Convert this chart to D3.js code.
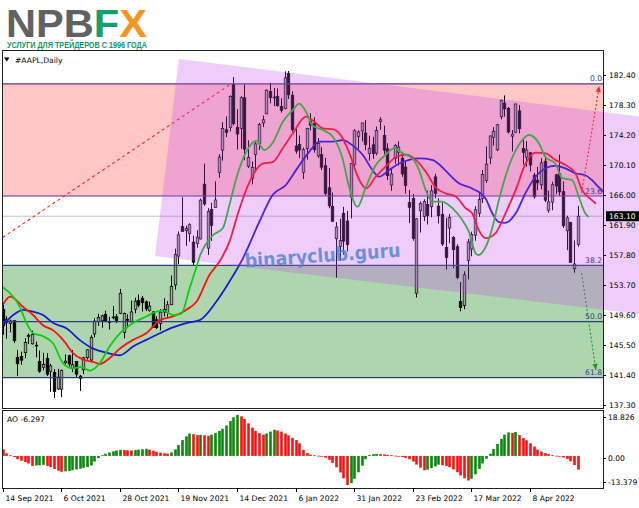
<!DOCTYPE html>
<html><head><meta charset="utf-8">
<script src="https://cdn.jsdelivr.net/npm/d3@7"></script>
<style>body{margin:0;background:#fff}svg{display:block}</style>
</head><body><svg id="c" width="639" height="508"></svg>
<script>
// ---------- DATA ----------
const tickLabels = ["14 Sep 2021","6 Oct 2021","28 Oct 2021","19 Nov 2021","14 Dec 2021","6 Jan 2022","31 Jan 2022","23 Feb 2022","17 Mar 2022","8 Apr 2022"];
const tickBars = [0,16,32,48,64,80,96,112,128,144];
const priceTicks = ["182.40","178.30","174.20","170.10","166.00","161.90","157.80","153.70","149.60","145.50","141.40","137.30"];
const aoTicks = ["18.826","0.00","-13.379"];
const lastPrice = 163.10;
const lastAO = -6.297;

const open = [150.35,148.56,148.44,148.82,143.80,143.93,144.45,146.65,145.66,145.47,
143.25,142.47,143.66,141.90,141.76,139.49,139.47,143.06,144.03,142.27,
143.23,141.24,142.11,143.77,143.45,147.01,148.70,148.81,149.69,148.68,
149.33,149.36,149.82,147.22,148.99,148.66,150.39,151.58,151.89,151.41,
150.20,150.02,148.96,148.43,150.37,149.94,151.00,153.71,157.65,161.68,
161.12,160.75,159.57,159.37,159.99,167.48,158.74,164.02,164.29,169.08,
172.13,174.91,175.21,181.12,175.25,175.11,179.28,169.93,168.28,171.56,
173.04,175.85,177.09,180.16,179.33,179.47,178.09,177.83,182.63,179.61,
172.70,172.89,169.08,172.32,176.12,175.78,171.34,171.51,170.00,166.98,
164.42,160.02,158.98,163.50,162.45,165.71,170.16,174.01,174.75,174.48,
171.68,172.86,171.73,176.05,174.14,172.33,167.37,170.97,171.85,171.03,
169.82,164.98,165.54,152.58,163.84,163.06,164.70,164.39,168.47,164.49,
163.36,158.82,161.48,160.20,158.93,151.45,150.90,157.05,158.61,160.51,
163.51,165.51,167.99,171.06,173.88,172.17,176.69,178.55,177.84,174.03,
174.57,177.50,172.36,171.16,171.78,168.71,168.02,167.39,170.62,163.92,
165.02,168.76,168.91,166.46,161.12,162.25,155.91,159.25];
const high = [151.07,149.44,148.97,148.82,144.84,144.60,146.43,147.08,147.47,145.96,
144.75,144.45,144.38,142.92,142.21,142.24,142.15,144.22,144.18,144.81,
143.25,141.40,143.88,144.90,146.84,149.17,149.75,149.64,150.18,149.37,
150.84,149.73,153.17,149.94,149.70,151.57,151.97,152.43,152.20,151.57,
151.43,150.13,149.43,150.40,151.88,151.49,155.00,158.67,161.02,165.70,
161.80,162.14,160.45,161.19,165.52,170.30,164.20,164.96,167.88,171.58,
175.96,176.75,179.63,182.13,177.74,179.50,181.14,173.47,170.58,173.20,
175.86,176.85,180.42,181.33,180.63,180.57,179.23,182.88,182.94,180.17,
175.30,174.14,172.50,175.18,177.18,176.62,173.78,172.54,171.08,169.68,
166.33,162.30,162.76,164.39,163.84,170.35,175.00,174.84,175.88,176.24,
174.10,173.95,175.35,176.65,175.48,173.08,169.58,172.95,173.34,171.91,
170.54,166.69,166.15,162.85,165.12,165.42,166.60,167.36,168.91,165.55,
165.02,162.88,163.41,160.39,159.28,154.12,155.57,160.00,161.00,164.48,
166.35,169.42,172.64,174.14,175.28,175.73,179.01,179.61,178.03,174.88,
178.49,178.30,173.63,173.36,171.78,169.03,169.87,171.04,171.27,166.60,
167.82,168.88,171.53,167.87,163.17,162.34,159.79,164.52];
const low = [146.91,146.37,147.22,145.76,141.27,142.78,143.70,145.64,145.56,143.82,
141.69,142.03,141.28,139.11,138.27,139.36,138.37,142.72,142.56,141.81,
141.04,139.20,141.51,143.51,143.16,146.55,148.12,147.87,148.64,147.62,
149.01,148.49,149.72,146.41,147.80,148.65,149.82,150.64,150.06,150.16,
150.06,147.85,147.68,147.48,149.43,149.34,150.99,153.05,156.53,161.00,
159.06,159.64,156.36,158.79,159.92,164.53,157.80,159.72,164.28,168.34,
170.70,173.92,174.69,175.53,172.21,172.31,170.75,169.69,167.46,169.12,
172.15,175.27,177.07,178.53,178.14,178.09,177.26,177.71,179.12,174.64,
171.64,171.03,168.17,170.82,174.82,171.79,171.09,169.41,165.94,164.18,
162.30,154.70,157.02,157.82,158.28,162.80,169.51,172.31,173.33,172.12,
170.68,170.95,171.43,174.90,171.55,168.04,166.56,170.25,170.05,168.47,
166.19,162.15,159.75,152.00,160.87,162.43,161.97,162.95,165.55,162.10,
159.04,155.80,159.41,155.98,154.50,150.10,150.38,154.46,157.63,159.76,
163.01,164.91,167.65,170.21,172.75,172.00,176.34,176.70,174.40,171.94,
174.44,174.42,170.13,169.85,169.20,165.50,166.64,166.77,165.04,163.57,
163.91,166.10,165.91,161.50,158.46,156.72,155.38,158.93];
const close = [148.12,149.03,148.79,146.06,142.94,143.43,145.85,146.83,146.92,145.37,
141.91,142.83,141.50,142.65,139.14,141.11,142.00,143.29,142.90,142.81,
141.51,140.91,143.76,144.84,146.55,148.76,149.26,149.48,148.69,148.64,
149.32,148.85,152.57,149.80,148.96,150.02,151.49,150.96,151.28,150.44,
150.81,147.92,147.87,149.99,150.00,151.00,153.49,157.87,160.55,161.02,
161.41,161.94,156.81,160.24,165.30,164.77,163.76,161.84,165.32,171.18,
175.08,174.56,179.45,175.74,174.33,179.30,172.26,171.14,169.75,172.99,
175.64,176.28,180.33,179.29,179.38,178.20,177.57,182.01,179.70,174.92,
172.00,172.17,172.19,175.08,175.53,172.19,173.07,169.80,166.23,164.51,
162.41,161.62,159.78,159.69,159.22,170.33,174.78,174.61,175.84,172.90,
172.39,171.66,174.83,176.28,172.12,168.64,168.88,172.79,172.55,168.88,
167.30,164.32,160.07,162.74,164.85,165.12,163.20,166.56,166.23,163.17,
159.30,157.44,162.95,158.52,154.73,150.62,155.09,159.59,160.62,163.98,
165.38,168.82,170.21,174.07,174.72,175.60,178.96,177.77,174.61,174.31,
178.44,175.06,171.83,172.14,170.09,165.75,167.66,170.40,165.29,165.07,
167.40,167.23,166.42,161.79,162.88,156.80,156.57,163.10];

// Alligator lines: [bar, price]
const lips = [[0,153.4],[2.9,152.1],[4.7,150.7],[6.5,148.5],[8.3,147.1],[11,146.7],[13.8,145.7],[16.5,143.0],[19.2,142.3],[21.5,142.5],[23.8,142.0],[26.5,143.0],[29.2,145.3],[32,147.1],[35.6,148.5],[39.2,149.4],[42,150.05],[43.8,150.2],[46.5,149.6],[48.8,149.8],[51,153.2],[52.5,155.5],[53.8,157.6],[57.4,160.5],[60.1,161.45],[61.9,164.6],[63.8,168.3],[66.5,171.9],[69.2,173.4],[71.5,172.15],[73.7,173.1],[76.5,176.0],[79.2,177.6],[81,178.5],[82.8,177.4],[84.6,175.5],[87.4,174.9],[90.1,174.0],[92.8,171.0],[94.6,167.1],[96.9,164.4],[99.2,167.1],[101.9,170.1],[104.6,171.5],[106.9,172.4],[109.2,171.7],[111.9,171.0],[113.7,169.4],[115.5,166.7],[117.3,165.1],[120,165.1],[122.8,164.2],[125.5,162.6],[127.3,161.0],[129.2,158.0],[130,157.8],[131.9,158.9],[133.7,161.5],[135.5,165.3],[138.2,169.9],[140.9,172.8],[143.7,174.2],[146.4,173.1],[148.2,171.2],[150.9,170.3],[152.8,168.3],[155.5,168.05],[157.3,165.8],[159.1,163.5],[160,163.0]];
const teeth = [[0,150.96],[2,152.1],[5.6,150.7],[8.3,149.6],[11,148.2],[13.8,147.5],[16.5,146.2],[19.2,144.4],[22,143.5],[24.7,143.2],[26.5,142.9],[29.2,143.7],[32,145.0],[35.6,146.2],[39.2,147.1],[42.9,148.9],[46.5,149.4],[50.1,150.3],[52.9,151.4],[56.5,155.1],[59.2,156.9],[61.9,159.6],[64.7,164.2],[67.4,167.8],[71,170.3],[73.7,170.5],[76.5,172.4],[79.2,174.4],[82.8,176.7],[85.6,175.8],[87.4,175.1],[90.1,175.0],[92.8,173.8],[94.6,171.8],[97.4,168.05],[99.2,166.9],[101.9,168.5],[104.6,169.9],[107.4,171.2],[110.1,171.5],[112.8,170.8],[115.5,169.2],[118.3,167.0],[121,166.2],[123.7,165.8],[126.4,164.2],[128.2,163.5],[130,161.2],[131.9,160.1],[134.6,160.8],[137.3,163.5],[140.1,166.7],[142.8,170.3],[145.5,171.8],[148.2,171.7],[150.9,170.8],[153.7,170.1],[156.4,168.97],[158.2,166.7],[160.9,165.3],[162,164.8]];
const jaw = [[0,148.2],[2.9,149.6],[5.6,150.3],[8.3,150.05],[11,149.6],[13.8,148.5],[17.4,147.8],[21,146.2],[24.7,145.0],[28.3,144.45],[32,144.1],[35.6,145.3],[39.2,146.2],[42.9,147.1],[46.5,147.9],[50.1,148.5],[53.8,148.9],[58.3,151.4],[61.9,154.15],[65.6,157.35],[70.1,162.35],[73.7,166.0],[77.4,167.4],[80.1,169.4],[83.7,171.9],[86.5,173.3],[90.1,173.3],[92.8,173.5],[95.5,172.8],[98.3,171.5],[101,169.4],[102.8,168.5],[105.5,169.4],[108.3,170.3],[111,170.8],[113.7,171.0],[117.3,170.8],[119.4,170.1],[121,169.3],[124.6,167.6],[128.2,166.9],[131.9,165.5],[133.7,163.5],[135.5,162.3],[137.3,162.2],[140.1,163.5],[142.8,166.3],[145.5,168.5],[148.2,169.65],[150.9,170.0],[153.7,169.65],[156.4,168.97],[159.1,168.7],[160.9,168.05],[162.7,167.1],[165,166.0]];

// Awesome Oscillator values per bar
const ao = [3.0,1.2,0.3,-0.5,-1.5,-2.2,-2.8,-3.5,-4.6,-4.4,
-4.3,-4.1,-4.6,-5.2,-6.0,-6.8,-7.3,-7.1,-6.9,-6.6,
-6.2,-5.9,-5.5,-5.1,-4.4,-2.6,-1.0,0.3,1.0,1.6,
2.1,2.5,2.8,2.7,2.6,2.5,2.7,2.9,3.1,3.3,
2.9,2.4,1.9,1.5,1.2,1.1,1.6,3.0,5.0,7.3,
9.0,10.3,10.0,9.6,9.7,9.5,9.3,9.8,10.6,11.5,
12.5,14.0,16.0,17.8,18.826,18.2,17.0,15.0,13.0,11.5,
10.5,9.8,10.3,11.2,12.0,11.7,11.2,10.3,9.4,8.3,
7.3,5.8,2.8,1.3,0.6,0.3,0.1,-0.3,-0.8,-1.8,
-3.2,-5.2,-7.6,-10.3,-13.379,-12.5,-10.5,-7.5,-4.5,-1.5,
0.5,0.8,0.9,0.8,0.7,0.5,0.3,0.1,-0.2,-0.5,
-0.9,-1.5,-2.6,-4.0,-5.4,-6.6,-6.3,-5.6,-4.8,-4.0,
-4.3,-4.6,-5.2,-6.2,-7.5,-9.0,-10.3,-11.3,-10.5,-8.5,
-6.0,-3.5,-1.3,1.0,3.2,5.5,7.8,9.8,10.8,10.6,
11.0,9.6,8.2,7.2,5.8,4.3,2.9,2.0,1.3,0.8,
0.4,0.1,-0.2,-0.7,-1.4,-2.5,-4.2,-6.297];

// Fibonacci retracement
const fibLevels = ["0.0","23.6","38.2","50.0","61.8"];
const fibHigh = 181.2, fibRange = 65.0;
const fibLine = [[0,160.2],[62.4,181.2]];
const arrowUp = [[158.1,166.3],[162.9,180.9]];
const arrowDown = [[158.1,155.3],[162.0,142.1]];
// Channel corners [bar, price]
const channel = [[48.1,184.6],[173.8,176.73],[173.8,149.73],[41.6,157.66]];

// ---------- DRAW ----------
const svg = d3.select("#c");
const L = 3, R = 603, T = 51, B = 408, AT = 411, AB = 488;
const x = d3.scaleLinear().domain([0,144]).range([2.7,530]);
const y = d3.scaleLinear().domain([137.3,182.4]).range([405,75]);
const ya = d3.scaleLinear().domain([-13.379,18.826]).range([485,415]);
const axisFont = "DejaVu Sans";

const defs = svg.append("defs");
defs.append("clipPath").attr("id","mainClip").append("rect").attr("x",L).attr("y",T).attr("width",R-L).attr("height",B-T);
defs.append("clipPath").attr("id","chanClip").append("rect").attr("x",L).attr("y",T).attr("width",639-L).attr("height",B-T);
defs.append("clipPath").attr("id","aoClip").append("rect").attr("x",L).attr("y",AT).attr("width",R-L).attr("height",AB-AT);

const fibPrice = fibLevels.map(l => fibHigh - (+l/100)*fibRange);

const main = svg.append("g").attr("clip-path","url(#mainClip)");
// zones
main.append("rect").attr("x",L).attr("width",R-L)
  .attr("y",y(fibPrice[0])).attr("height",y(fibPrice[1])-y(fibPrice[0])).attr("fill","#ffc6c6");
main.append("rect").attr("x",L).attr("width",R-L)
  .attr("y",y(fibPrice[2])).attr("height",y(fibPrice[4])-y(fibPrice[2])).attr("fill","#aed6ae");
// current price line
main.append("line").attr("x1",L).attr("x2",R).attr("y1",y(lastPrice)).attr("y2",y(lastPrice))
  .attr("stroke","#c4c4c4").attr("stroke-width",1);

// candles
const bw = 2.6;
const idx = d3.range(close.length);
const cg = main.append("g");
cg.selectAll("line.w").data(idx).join("line")
  .attr("x1",i=>Math.round(x(i))+0.5).attr("x2",i=>Math.round(x(i))+0.5)
  .attr("y1",i=>y(high[i])).attr("y2",i=>y(low[i]))
  .attr("stroke","#000").attr("stroke-width",1);
cg.selectAll("rect.b").data(idx).join("rect")
  .attr("x",i=>Math.round(x(i))+0.5-bw/2).attr("width",bw)
  .attr("y",i=>y(Math.max(open[i],close[i])))
  .attr("height",i=>Math.max(0.8,Math.abs(y(open[i])-y(close[i]))))
  .attr("fill",i=>close[i]>=open[i]?"#a4a4a4":"#000")
  .attr("stroke","#000").attr("stroke-width",0.7);

// fib level lines
fibPrice.forEach((p,k)=>{
  main.append("line").attr("x1",L).attr("x2",R).attr("y1",y(p)).attr("y2",y(p))
    .attr("stroke", k<2 ? "#5a3296" : "#2e3f78").attr("stroke-width",1.2);
});

// channel (translucent violet)
svg.append("g").attr("clip-path","url(#chanClip)").append("path")
  .attr("d", d3.line().x(d=>x(d[0])).y(d=>y(d[1]))(channel)+"Z")
  .attr("fill","rgb(196,70,238)").attr("fill-opacity",0.27);

// alligator lines
const ln = d3.line().x(d=>x(d[0])).y(d=>y(d[1])).curve(d3.curveMonotoneX);
main.append("path").attr("d",ln(jaw)).attr("fill","none").attr("stroke","#1a1ad0").attr("stroke-width",1.8);
main.append("path").attr("d",ln(teeth)).attr("fill","none").attr("stroke","#ff1010").attr("stroke-width",1.8);
main.append("path").attr("d",ln(lips)).attr("fill","none").attr("stroke","#10cc10").attr("stroke-width",1.8);

// fib diagonal + arrows
main.append("line").attr("x1",x(fibLine[0][0])).attr("y1",y(fibLine[0][1]))
  .attr("x2",x(fibLine[1][0])).attr("y2",y(fibLine[1][1]))
  .attr("stroke","#ff2020").attr("stroke-width",1.1).attr("stroke-dasharray","3,3");
function arrow(pts,color){
  const x1=x(pts[0][0]),y1=y(pts[0][1]),x2=x(pts[1][0]),y2=y(pts[1][1]);
  main.append("line").attr("x1",x1).attr("y1",y1).attr("x2",x2).attr("y2",y2)
    .attr("stroke",color).attr("stroke-width",1.1).attr("stroke-dasharray","2,2");
  const a=Math.atan2(y2-y1,x2-x1), s=6, w=2.6;
  const p=[[x2,y2],[x2-s*Math.cos(a)+w*Math.sin(a),y2-s*Math.sin(a)-w*Math.cos(a)],[x2-s*Math.cos(a)-w*Math.sin(a),y2-s*Math.sin(a)+w*Math.cos(a)]];
  main.append("path").attr("d","M"+p.map(q=>q.join(",")).join("L")+"Z").attr("fill",color);
}
arrow(arrowUp,"#ff2020");
arrow(arrowDown,"#1a9a1a");

// fib labels
fibLevels.forEach((l,k)=>{
  svg.append("text").attr("x",602).attr("y",y(fibPrice[k])-2.5).attr("text-anchor","end")
    .attr("font-family",axisFont).attr("font-size",7.6)
    .attr("fill", k===0 ? "#2a3ac0" : "#3a3a8a").text(l);
});

// watermark
svg.append("text").attr("transform","translate(323,262) rotate(-4)")
  .attr("text-anchor","middle").attr("font-family","DejaVu Sans").attr("font-weight","bold")
  .attr("font-size",19).attr("textLength",156).attr("lengthAdjust","spacingAndGlyphs")
  .attr("fill","#4f86d4").attr("fill-opacity",0.85).text("binaryclub.guru");

// AO histogram
const aog = svg.append("g").attr("clip-path","url(#aoClip)");
aog.selectAll("rect").data(idx).join("rect")
  .attr("x",i=>Math.round(x(i))+0.5-1.3).attr("width",2.6)
  .attr("y",i=>Math.min(ya(ao[i]),ya(0))).attr("height",i=>Math.max(0.8,Math.abs(ya(ao[i])-ya(0))))
  .attr("fill",i=> (i>0 && ao[i]>ao[i-1]) ? "#0a8a0a" : "#ff1010");

// frames
svg.append("rect").attr("x",L-0.5).attr("y",T-0.5).attr("width",R-L+1).attr("height",B-T+1)
  .attr("fill","none").attr("stroke","#202020").attr("stroke-width",1);
svg.append("rect").attr("x",L-0.5).attr("y",AT-0.5).attr("width",R-L+1).attr("height",AB-AT+1)
  .attr("fill","none").attr("stroke","#202020").attr("stroke-width",1);

// price axis
priceTicks.forEach(t=>{
  const yy = Math.round(y(+t))+0.5;
  svg.append("line").attr("x1",R).attr("x2",R+3).attr("y1",yy).attr("y2",yy).attr("stroke","#000");
  svg.append("text").attr("x",609).attr("y",yy+2.8).attr("font-family",axisFont).attr("font-size",7.6).attr("fill","#000").text(t);
});
// last price box
svg.append("rect").attr("x",606).attr("y",y(lastPrice)-5).attr("width",33).attr("height",10).attr("fill","#000");
svg.append("text").attr("x",609).attr("y",y(lastPrice)+2.8).attr("font-family",axisFont).attr("font-size",7.6).attr("fill","#fff").text(lastPrice.toFixed(2));
// AO axis
const aoTickPos = [417, 458, 482];
aoTicks.forEach((t,k)=>{
  svg.append("line").attr("x1",R).attr("x2",R+3).attr("y1",aoTickPos[k]+0.5).attr("y2",aoTickPos[k]+0.5).attr("stroke","#000");
  svg.append("text").attr("x",608).attr("y",aoTickPos[k]+3).attr("font-family",axisFont).attr("font-size",7.6).attr("fill","#000").text(t);
});
svg.append("text").attr("x",7).attr("y",422).attr("font-family",axisFont).attr("font-size",7.6).attr("fill","#000").text("AO " + lastAO.toFixed(3));

// time axis
tickBars.forEach((b,k)=>{
  const xx = Math.round(x(b))+0.5;
  svg.append("line").attr("x1",xx).attr("x2",xx).attr("y1",AB).attr("y2",AB+4).attr("stroke","#000");
  svg.append("text").attr("x",xx+2).attr("y",501).attr("font-family",axisFont).attr("font-size",7.6).attr("fill","#000").text(tickLabels[k]);
});

// header
svg.append("path").attr("d","M4,57.5L9.5,57.5L6.75,61.5Z").attr("fill","#000");
svg.append("text").attr("x",15).attr("y",63).attr("font-family",axisFont).attr("font-size",7.6).attr("fill","#000").text("#AAPL,Daily");

// logo (one text line with coloured parts, tagline below)
const logo = svg.append("text").attr("x",6).attr("y",37).attr("font-family","Liberation Sans").attr("font-weight","bold")
  .attr("font-size",38).attr("textLength",141).attr("lengthAdjust","spacingAndGlyphs");
logo.append("tspan").attr("fill","#606163").text("NPB");
logo.append("tspan").attr("fill","#13a06c").text("F");
logo.append("tspan").attr("fill","#f7941d").text("X");
svg.append("text").attr("x",7).attr("y",47.5).attr("font-family","Liberation Sans").attr("font-weight","bold")
  .attr("font-size",8.2).attr("textLength",140).attr("lengthAdjust","spacingAndGlyphs").attr("fill","#12966a")
  .text("УСЛУГИ ДЛЯ ТРЕЙДЕРОВ С 1996 ГОДА");
</script>
</body></html>
